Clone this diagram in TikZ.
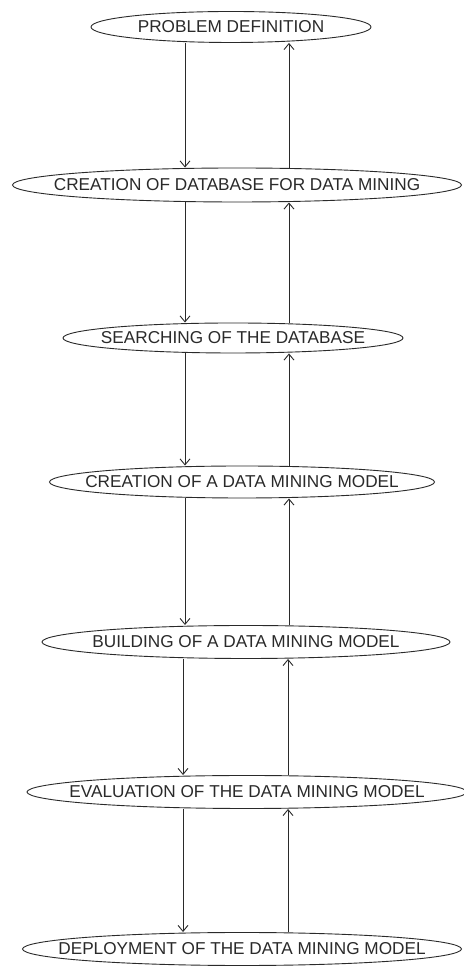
\documentclass[tikz,border=0pt]{standalone}
\usepackage{fontspec}
\setmainfont{Liberation Sans}
\usetikzlibrary{shapes.geometric,arrows.meta}
\definecolor{ink}{HTML}{2A2A2A}
% the label is boxed at zero width so the ellipse keeps its own size
\newcommand{\stagelabel}[1]{\makebox[0pt][c]{#1}}
\tikzset{
  stage/.style={ellipse, draw=ink, line width=0.9pt, inner sep=0pt,
    text=ink, font=\fontsize{17.2}{19}\selectfont},
  flow/.style={draw=ink, line width=0.9pt,
    -{Straight Barb[length=6pt,width=10pt]}}
}
\begin{document}
\begin{tikzpicture}[x=1pt,y=1pt]
\useasboundingbox[fill=white] (0,0) rectangle (463,966);
% stages of the process, top to bottom
\node[stage, minimum width=280pt, minimum height=31pt] (e1) at (231,939) {\stagelabel{PROBLEM DEFINITION}};
\node[stage, minimum width=449pt, minimum height=34pt] (e2) at (237,781) {\stagelabel{CREATION OF DATABASE FOR DATA MINING}};
\node[stage, minimum width=340pt, minimum height=30pt] (e3) at (233,628) {\stagelabel{SEARCHING OF THE DATABASE}};
\node[stage, minimum width=385pt, minimum height=32pt] (e4) at (242,484) {\stagelabel{CREATION OF A DATA MINING MODEL}};
\node[stage, minimum width=408pt, minimum height=33pt] (e5) at (246,324) {\stagelabel{BUILDING OF A DATA MINING MODEL}};
\node[stage, minimum width=440pt, minimum height=33pt] (e6) at (247,174) {\stagelabel{EVALUATION OF THE DATA MINING MODEL}};
\node[stage, minimum width=439pt, minimum height=33pt] (e7) at (242,17) {\stagelabel{DEPLOYMENT OF THE DATA MINING MODEL}};
% columns of the forward and feedback links
\coordinate (dn) at (185,0);
\coordinate (up) at (289,0);
\coordinate (dn2) at (183,0);
\coordinate (up2) at (288,0);
% forward links
\draw[flow] (e1.south -| dn) -- (e2.north -| dn);
\draw[flow] (e2.south -| dn) -- (e3.north -| dn);
\draw[flow] (e3.south -| dn) -- (e4.north -| dn);
\draw[flow] (e4.south -| dn) -- (e5.north -| dn);
\draw[flow] (e5.south -| dn2) -- (e6.north -| dn2);
\draw[flow] (e6.south -| dn2) -- (e7.north -| dn2);
% feedback links
\draw[flow] (e2.north -| up) -- (e1.south -| up);
\draw[flow] (e3.north -| up) -- (e2.south -| up);
\draw[flow] (e4.north -| up) -- (e3.south -| up);
\draw[flow] (e5.north -| up) -- (e4.south -| up);
\draw[flow] (e6.north -| up2) -- (e5.south -| up2);
\draw[flow] (e7.north -| up2) -- (e6.south -| up2);
\end{tikzpicture}
\end{document}
